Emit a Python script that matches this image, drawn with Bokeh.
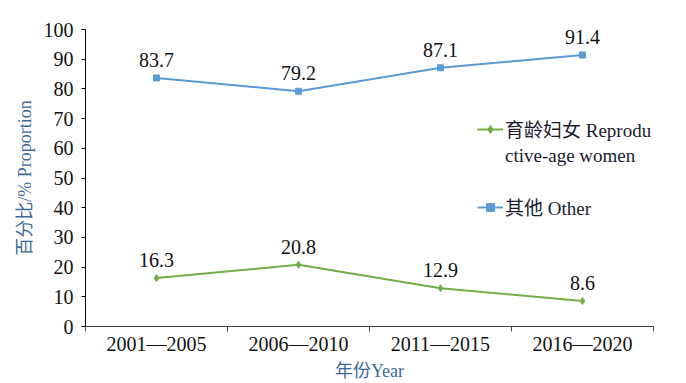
from bokeh.plotting import figure
from bokeh.models import (ColumnDataSource, LabelSet, Range1d, FixedTicker,
                          Legend, LegendItem)
from bokeh.embed import file_html
from bokeh.resources import INLINE

# ---- data ----
periods = ["2001—2005", "2006—2010", "2011—2015", "2016—2020"]
women = [16.3, 20.8, 12.9, 8.6]
other = [83.7, 79.2, 87.1, 91.4]
y_ticks = [0, 10, 20, 30, 40, 50, 60, 70, 80, 90, 100]
x_title = "年份Year"
y_title = "百分比/% Proportion"
women_label_1 = "育龄妇女 Reprodu"
women_label_2 = "ctive-age women"
other_label = "其他 Other"

GREEN = "#72ad47"
BLUE = "#5b9bd5"
SERIF = "Liberation Serif, Noto Sans CJK SC"
TITLE_COLOR = "#3d6a9c"

xs = [i + 0.5 for i in range(len(periods))]
src = ColumnDataSource(dict(
    x=xs,
    women=women, other=other,
    women_txt=[f"{v:.1f}" for v in women],
    other_txt=[f"{v:.1f}" for v in other],
))

p = figure(width=686, height=383, output_backend="svg", toolbar_location=None,
           x_range=Range1d(0, len(periods)), y_range=Range1d(0, 100),
           min_border_left=85, min_border_right=33, min_border_top=29,
           min_border_bottom=57)
p.outline_line_color = None
p.xgrid.visible = False
p.ygrid.visible = False
p.background_fill_color = "white"
p.border_fill_color = "white"

# lines
gl = p.line("x", "women", source=src, line_color=GREEN, line_width=2)
gs = p.scatter("x", "women", source=src, marker="diamond", size=7,
               fill_color=GREEN, line_color=GREEN)
bl = p.line("x", "other", source=src, line_color=BLUE, line_width=2)
bs = p.scatter("x", "other", source=src, marker="square", size=6,
               fill_color=BLUE, line_color=BLUE)

# data labels
for col, off in (("women_txt", "women"), ("other_txt", "other")):
    p.add_layout(LabelSet(x="x", y=off, text=col, source=src, y_offset=11,
                          text_align="center", text_baseline="bottom",
                          text_font=SERIF, text_font_size="20px",
                          text_color="#111111"))

# y axis
ya = p.yaxis[0]
ya.ticker = FixedTicker(ticks=y_ticks)
ya.axis_line_color = "black"
ya.major_tick_line_color = "black"
ya.major_tick_out = 4
ya.major_tick_in = 0
ya.minor_tick_line_color = None
ya.major_label_text_font = SERIF
ya.major_label_text_font_size = "20px"
ya.major_label_text_color = "#111111"
ya.major_label_standoff = 8
ya.axis_label = y_title
ya.axis_label_text_font = SERIF
ya.axis_label_text_font_size = "18px"
ya.axis_label_text_font_style = "normal"
ya.axis_label_text_color = TITLE_COLOR
ya.axis_label_standoff = 6

# x axis
xa = p.xaxis[0]
xa.ticker = FixedTicker(ticks=xs, minor_ticks=list(range(len(periods) + 1)))
xa.major_label_overrides = {x: lab for x, lab in zip(xs, periods)}
xa.axis_line_color = "#444444"
xa.major_tick_line_color = None
xa.minor_tick_line_color = "#444444"
xa.minor_tick_out = 5
xa.minor_tick_in = 0
xa.major_tick_out = 0
xa.major_tick_in = 0
xa.major_label_text_font = SERIF
xa.major_label_text_font_size = "20px"
xa.major_label_text_color = "#111111"
xa.major_label_standoff = 1
xa.axis_label = x_title
xa.axis_label_text_font = SERIF
xa.axis_label_text_font_size = "18px"
xa.axis_label_text_font_style = "normal"
xa.axis_label_text_color = TITLE_COLOR
xa.axis_label_standoff = 3

# legend (wrapped label as two rows)
dummy = p.line(x=[], y=[], line_alpha=0)
legend = Legend(items=[
    LegendItem(label=women_label_1, renderers=[gl, gs]),
    LegendItem(label=women_label_2, renderers=[dummy]),
    LegendItem(label=" ", renderers=[dummy]),
    LegendItem(label=other_label, renderers=[bl, bs]),
], location=(392, 106), label_text_font=SERIF, label_text_font_size="19px",
    label_text_color="#1a1a2e", background_fill_alpha=0, border_line_color=None,
    glyph_width=26, glyph_height=20, label_height=20, spacing=3,
    label_standoff=2, padding=0, margin=0)
p.add_layout(legend)

open("out.html", "w").write(file_html(p, INLINE))
